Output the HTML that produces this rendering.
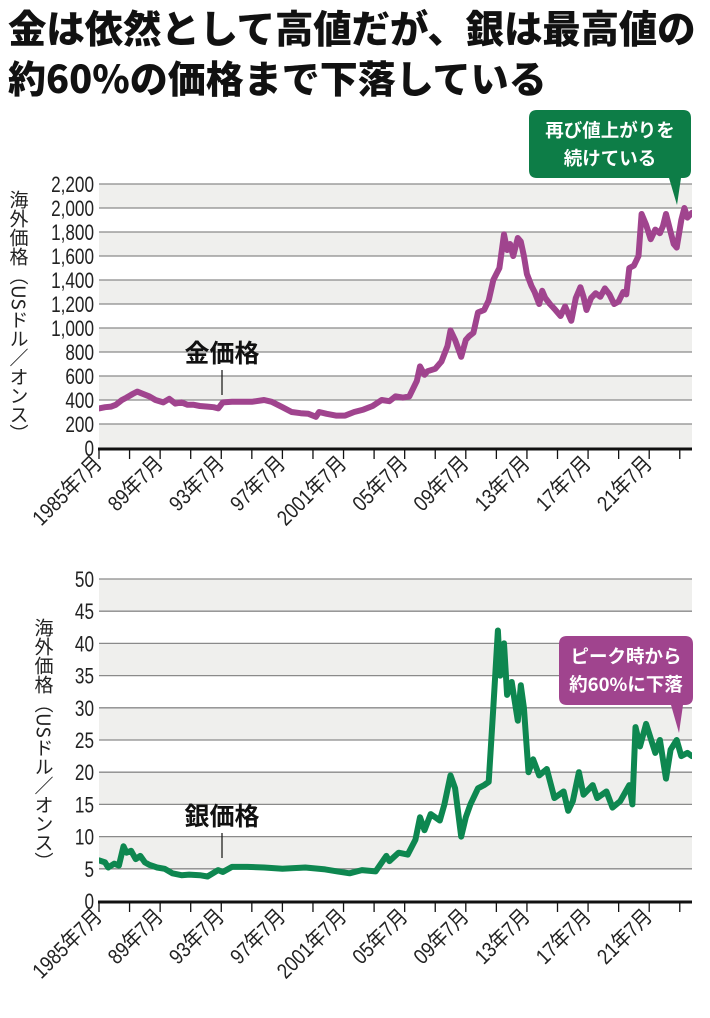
<!DOCTYPE html>
<html><head><meta charset="utf-8">
<style>
body{margin:0;background:#fff;width:710px;height:1018px;overflow:hidden;font-family:"Liberation Sans","Noto Sans CJK JP",sans-serif;}
.title{position:absolute;left:8px;font-family:"Noto Sans CJK JP",sans-serif;font-weight:900;color:#111;line-height:1;white-space:nowrap}
</style></head>
<body>
<div class="title" style="top:8px;font-size:38.5px;letter-spacing:-0.2px">金は依然として高値だが、銀は最高値の</div>
<div class="title" style="top:58px;font-size:38px;letter-spacing:0px">約60%の価格まで下落している</div>
<svg id="svg" width="710" height="1018" style="position:absolute;left:0;top:0" xmlns="http://www.w3.org/2000/svg"></svg>
<script>
// ---- gold data ----
const goldDates=[1985.5,1985.9,1986.3,1986.6,1987.0,1987.3,1987.7,1988.0,1988.3,1988.8,1989.2,1989.7,1990.1,1990.5,1990.9,1991.3,1991.7,1992.1,1992.6,1993.0,1993.3,1993.6,1994.2,1994.8,1995.5,1996.3,1996.8,1997.5,1998.1,1998.7,1999.2,1999.7,1999.9,2000.4,2001.0,2001.6,2002.2,2002.8,2003.4,2004.0,2004.5,2004.9,2005.4,2005.8,2006.3,2006.5,2006.8,2007.0,2007.5,2007.9,2008.3,2008.5,2008.8,2009.2,2009.5,2009.7,2010.0,2010.3,2010.7,2011.0,2011.3,2011.7,2012.0,2012.2,2012.4,2012.6,2012.9,2013.1,2013.3,2013.5,2013.8,2014.0,2014.3,2014.5,2014.7,2015.0,2015.3,2015.7,2016.0,2016.4,2016.7,2017.0,2017.2,2017.4,2017.7,2018.0,2018.3,2018.6,2018.9,2019.2,2019.5,2019.8,2020.0,2020.2,2020.5,2020.8,2021.0,2021.3,2021.6,2021.9,2022.2,2022.4,2022.6,2022.9,2023.1,2023.3,2023.6,2023.8,2024.0,2024.3];
const goldValues=[330,340,345,360,400,420,450,470,455,430,400,380,410,370,380,360,360,350,345,340,330,380,385,385,385,400,385,340,300,290,285,260,300,285,270,270,300,320,350,400,390,430,420,430,560,680,610,640,660,720,850,980,900,760,900,930,960,1130,1150,1230,1400,1500,1780,1650,1700,1600,1750,1720,1600,1450,1350,1300,1200,1310,1250,1200,1160,1100,1180,1060,1250,1340,1260,1150,1250,1290,1260,1330,1280,1200,1220,1300,1280,1500,1520,1600,1950,1860,1740,1820,1790,1850,1950,1800,1700,1670,1900,2000,1920,1960];
const goldTicks=[0,200,400,600,800,1000,1200,1400,1600,1800,2000,2200];
const goldTickLabels=["0","200","400","600","800","1,000","1,200","1,400","1,600","1,800","2,000","2,200"];
// ---- silver data ----
const silverDates=[1985.5,1985.9,1986.1,1986.5,1986.8,1987.1,1987.3,1987.6,1987.9,1988.2,1988.5,1988.8,1989.3,1989.8,1990.3,1990.9,1991.4,1992.1,1992.6,1993.3,1993.6,1994.2,1995.2,1996.3,1997.5,1999.0,2000.3,2001.1,2001.9,2002.7,2003.6,2004.3,2004.5,2005.1,2005.7,2006.2,2006.5,2006.8,2007.2,2007.8,2008.1,2008.5,2008.8,2009.2,2009.5,2009.8,2010.3,2010.7,2011.0,2011.3,2011.6,2011.75,2012.0,2012.2,2012.5,2012.9,2013.1,2013.3,2013.6,2013.9,2014.3,2014.8,2015.3,2015.9,2016.2,2016.5,2016.9,2017.2,2017.8,2018.1,2018.7,2019.1,2019.6,2020.2,2020.4,2020.6,2020.9,2021.3,2021.9,2022.2,2022.6,2022.9,2023.3,2023.6,2024.0,2024.3];
const silverValues=[6.3,6,5.2,5.8,5.5,8.5,7.5,7.8,6.5,7,6,5.6,5.2,5,4.3,4,4.1,4,3.8,4.8,4.5,5.3,5.3,5.2,5,5.2,4.9,4.6,4.3,4.8,4.6,7,6.2,7.5,7.2,9.5,13,11,13.5,12.5,15,19.5,17.5,10,13,15,17.5,18,18.5,30,42,35,40,32,34,28,33.5,30,20,22,19.5,20.5,16,17,14,15.5,20,16.5,18,16,17,14.5,15.5,18,15,27,24,27.5,23,25,19,23.5,25,22.5,23,22.5];
const silverTicks=[0,5,10,15,20,25,30,35,40,45,50];
const silverTickLabels=["0","5","10","15","20","25","30","35","40","45","50"];
// ---- x axis ----
const xLabelYears=[1985.5,1989.5,1993.5,1997.5,2001.5,2005.5,2009.5,2013.5,2017.5,2021.5];
const xLabels=["1985年7月","89年7月","93年7月","97年7月","2001年7月","05年7月","09年7月","13年7月","17年7月","21年7月"];

const NS="http://www.w3.org/2000/svg";
const svg=document.getElementById('svg');
function mk(tag,attrs,parent){const e=document.createElementNS(NS,tag);for(const k in attrs)e.setAttribute(k,attrs[k]);(parent||svg).appendChild(e);return e;}
const X0=99,X1=692,D0=1985.5,D1=2024.3;
function xs(d){return X0+(d-D0)/(D1-D0)*(X1-X0);}

function chart(cfg){
  const g=mk('g',{});
  
  
  const ys=v=>cfg.y0+(v-cfg.vmin)/(cfg.vmax-cfg.vmin)*(cfg.y1-cfg.y0);
  const t=cfg.ticks;
  for(let i=t.length-1;i>0;i--){
    const band=mk('rect',{x:X0,y:ys(t[i]),width:X1-X0,height:ys(t[i-1])-ys(t[i]),fill:((t.length-1-i)%2===0)?'#efefed':'#ffffff'},g);
    
    
  }
  t.forEach((v,i)=>{
    if(i>0){const l=mk('line',{x1:X0,x2:X1,y1:ys(v),y2:ys(v),stroke:'#8a8a8a','stroke-width':1.3},g);
    
    }
    const yy=ys(v)+8;
    const tx=mk('text',{x:0,y:0,'text-anchor':'end','font-size':22,'font-family':'"Liberation Sans",sans-serif',fill:'#222',transform:`translate(${X0-5},${yy}) scale(0.78,1)`},g);
    tx.textContent=cfg.tickLabels[i];
    
    
  });
  const ax=mk('line',{x1:X0-1,x2:X1,y1:cfg.y0+1,y2:cfg.y0+1,stroke:'#111','stroke-width':3},g);
  
  
  for(let d=1985.5;d<=2024;d+=2){
    const tk=mk('line',{x1:xs(d),x2:xs(d),y1:cfg.y0+1,y2:cfg.y0+11,stroke:'#111','stroke-width':1.3},g);
    
    
  }
  xLabelYears.forEach((d,i)=>{
    const x=xs(d)+4,y=cfg.y0+17;
    const tx=mk('text',{x:0,y:0,'text-anchor':'end','font-size':21.5,'font-family':'"Liberation Sans","Noto Sans CJK JP",sans-serif',fill:'#222',transform:`translate(${x},${y}) rotate(-45) scale(0.85,1)`},g);
    tx.textContent=xLabels[i];
    
    
  });
  const pts=cfg.dates.map((d,i)=>xs(d).toFixed(1)+','+ys(cfg.values[i]).toFixed(1)).join(' ');
  const cp=mk('clipPath',{id:'clip'+cfg.name},g);
  mk('rect',{x:X0,y:cfg.y1-10,width:X1-X0,height:cfg.y0-cfg.y1+10},cp);
  const pl=mk('polyline',{points:pts,fill:'none',stroke:cfg.color,'stroke-width':6,'stroke-linejoin':'round','stroke-linecap':'round','clip-path':`url(#clip${cfg.name})`},g);
  
  
  const yt=mk('text',{x:cfg.titleX,y:cfg.titleY,'font-size':19,'writing-mode':'tb','font-family':'"Noto Sans CJK JP",sans-serif',fill:'#222'},g);
  yt.textContent='海外価格（USドル／オンス）';
  
  
  const sl=mk('text',{x:222,y:cfg.labelY,'text-anchor':'middle','font-size':25,'font-weight':'bold','font-family':'"Noto Sans CJK JP",sans-serif',fill:'#111'},g);
  sl.textContent=cfg.label;
  
  
  const ll=mk('line',{x1:222,x2:222,y1:cfg.labelY+8,y2:cfg.labelY+33,stroke:'#111','stroke-width':1.2},g);
  
  
  const c=cfg.callout;
  const cb=mk('path',{d:`M${c.x+8},${c.y} H${c.x+c.w-8} Q${c.x+c.w},${c.y} ${c.x+c.w},${c.y+8} V${c.y+c.h-8} Q${c.x+c.w},${c.y+c.h} ${c.x+c.w-8},${c.y+c.h} H${c.tx+4} L${c.tx},${c.ty} L${c.tx-8},${c.y+c.h} H${c.x+8} Q${c.x},${c.y+c.h} ${c.x},${c.y+c.h-8} V${c.y+8} Q${c.x},${c.y} ${c.x+8},${c.y} Z`,fill:c.color},g);
  
  
  c.lines.forEach((s,i)=>{
    const tx=mk('text',{x:c.x+c.w/2,y:c.y+27+i*28,'text-anchor':'middle','font-size':18.5,'font-weight':'bold','font-family':'"Noto Sans CJK JP",sans-serif',fill:'#fff'},g);
    tx.textContent=s;
    
    
  });
}
chart({name:'gold-chart',seriesName:'gold-price-line',y0:448,y1:184,vmin:0,vmax:2200,ticks:goldTicks,tickLabels:goldTickLabels,dates:goldDates,values:goldValues,color:'#a0448e',titleX:19,titleY:190,label:'金価格',labelY:362,
  callout:{x:529,y:110,w:162,h:68,tx:677,ty:205,color:'#0d7d47',lines:['再び値上がりを','続けている']}});
chart({name:'silver-chart',seriesName:'silver-price-line',y0:901,y1:579,vmin:0,vmax:50,ticks:silverTicks,tickLabels:silverTickLabels,dates:silverDates,values:silverValues,color:'#0e8750',titleX:44,titleY:618,label:'銀価格',labelY:825,
  callout:{x:559,y:636,w:134,h:69,tx:679,ty:733,color:'#a0448e',lines:['ピーク時から','約60%に下落']}});
</script>
</body></html>
